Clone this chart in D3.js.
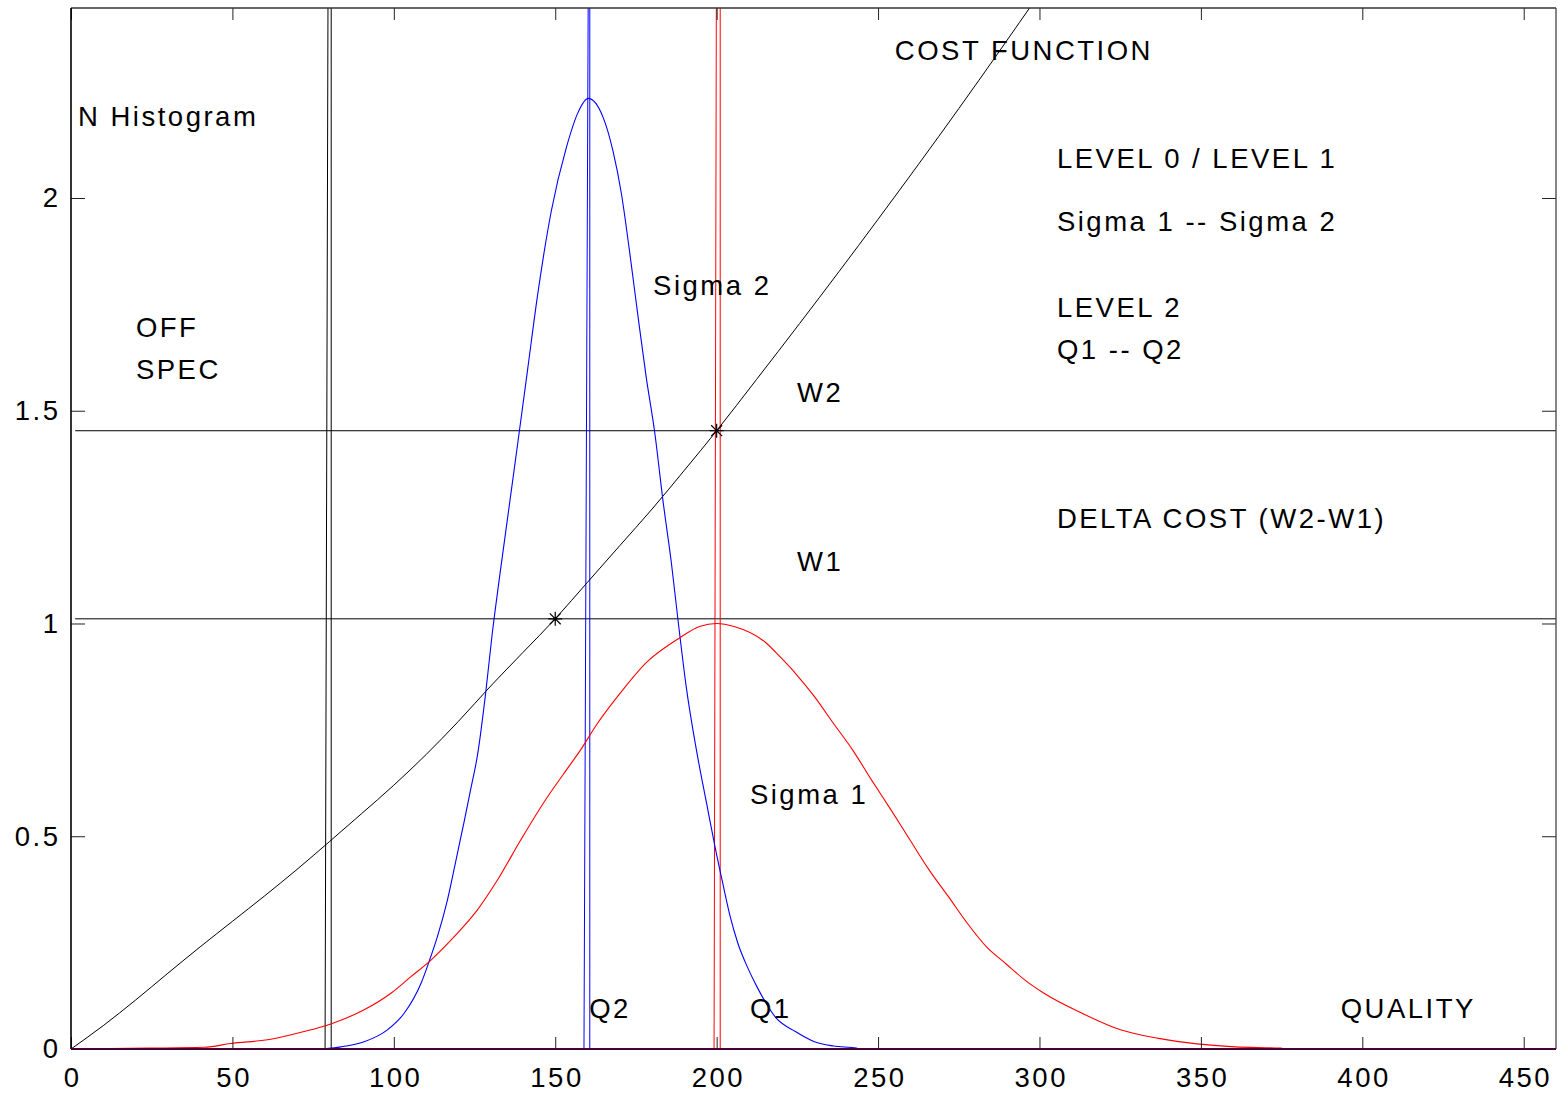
<!DOCTYPE html>
<html><head><meta charset="utf-8">
<script src="https://cdn.jsdelivr.net/npm/d3@7"></script>
<style>
html,body{margin:0;padding:0;background:#fff;}
svg text{font-family:"Liberation Sans",Arial,Helvetica,sans-serif;}
</style></head>
<body><svg id="chart" width="1561" height="1093"></svg>
<script>
// ---- data ----
const xTicks = [0, 50, 100, 150, 200, 250, 300, 350, 400, 450];
const yTicks = [0, 0.5, 1, 1.5, 2];
const xDomain = [0, 460];
const yDomain = [0, 2.4465];

// N histogram, Sigma 2 (blue)
const sigma2X = [0, 76.9, 83.6, 90.8, 98.0, 103.2, 108.4, 110.9, 113.5, 116.6, 119.7, 121.8, 123.8, 125.9, 128.5, 130.5, 132.8, 135.4, 138.5, 141.5, 144.5, 148.8, 153.5, 157.0, 160.2, 164.8, 167.9, 170.5, 173.1, 175.6, 178.2, 180.8, 183.4, 186.0, 188.0, 190.6, 193.7, 197.1, 199.5, 201.9, 204.2, 206.6, 209.5, 212.5, 218.4, 224.4, 230.3, 236.2, 243.3, 244, 460];
const sigma2Y = [0, 0, 0.005, 0.017, 0.045, 0.084, 0.154, 0.205, 0.264, 0.350, 0.460, 0.535, 0.610, 0.690, 0.840, 0.977, 1.112, 1.257, 1.430, 1.600, 1.770, 1.970, 2.120, 2.200, 2.234, 2.190, 2.110, 2.010, 1.870, 1.724, 1.578, 1.450, 1.287, 1.141, 1.010, 0.850, 0.704, 0.569, 0.475, 0.389, 0.311, 0.248, 0.193, 0.146, 0.073, 0.041, 0.017, 0.007, 0.002, 0, 0];

// N histogram, Sigma 1 (red)
const sigma1X = [0, 24.2, 41.3, 49.5, 61.9, 72.2, 80.5, 90.8, 99.1, 105.3, 111.5, 118.7, 125.9, 132.1, 139.3, 146.5, 154.8, 157.6, 162.8, 170.0, 178.2, 188.5, 194.7, 200, 205.4, 214.9, 219.6, 224.4, 230.3, 236.2, 242.1, 248.0, 254.0, 259.9, 265.8, 271.8, 277.7, 283.6, 289.5, 295.5, 301.4, 313.2, 325.1, 336.9, 348.8, 360.6, 374.8, 376, 460];
const sigma1Y = [0, 0.002, 0.004, 0.013, 0.023, 0.041, 0.059, 0.092, 0.131, 0.170, 0.209, 0.264, 0.327, 0.397, 0.491, 0.580, 0.670, 0.700, 0.762, 0.835, 0.908, 0.966, 0.993, 1.000, 0.993, 0.957, 0.922, 0.883, 0.828, 0.765, 0.703, 0.632, 0.562, 0.491, 0.421, 0.358, 0.295, 0.240, 0.201, 0.162, 0.131, 0.084, 0.045, 0.025, 0.012, 0.005, 0.002, 0, 0];

// Cost function (black)
const costX = [0, 10, 20, 30, 40, 50, 60, 70, 80, 90, 100, 110, 120, 130, 140, 150, 160, 170, 180, 190, 200, 212.3, 225.7, 250, 275, 300];
const costY = [0, 0.055, 0.115, 0.178, 0.240, 0.300, 0.360, 0.422, 0.487, 0.553, 0.620, 0.692, 0.770, 0.853, 0.932, 1.011, 1.097, 1.183, 1.269, 1.360, 1.453, 1.573, 1.705, 1.950, 2.210, 2.480];

// Weight levels W1, W2 (horizontal lines) and marked points
const levelY = [1.011, 1.453];
const levelXStart = 1.3;
const markX = [150, 200];
const markY = [1.011, 1.453];

// Quality limit lines: bottom x, top x, colour
const qBottom = [78.7, 80.6, 158.9, 160.7, 199.2, 201.1];
const qTop    = [79.6, 80.6, 160.2, 160.7, 199.9, 201.1];
const qColor  = ["#000000", "#000000", "#0000ff", "#0000ff", "#ff0000", "#ff0000"];

// Annotations (data coordinates)
const labelText = ["N Histogram", "COST FUNCTION", "LEVEL 0 / LEVEL 1", "Sigma 1 -- Sigma 2", "Sigma 2", "LEVEL 2", "OFF", "Q1 -- Q2", "SPEC", "W2", "DELTA COST (W2-W1)", "W1", "Sigma 1", "Q2", "Q1", "QUALITY"];
const labelX = [2.17, 255.2, 305.4, 305.4, 180.3, 305.4, 20.1, 305.4, 20.1, 224.9, 305.4, 224.9, 210.3, 160.5, 210.3, 393.3];
const labelY = [2.169, 2.324, 2.070, 1.922, 1.772, 1.720, 1.673, 1.622, 1.575, 1.520, 1.224, 1.123, 0.576, 0.073, 0.073, 0.073];

// ---- drawing ----
const W = 1561, H = 1093;
const m = {left: 71, top: 8, right: 5, bottom: 44};
const svg = d3.select("#chart");
const x = d3.scaleLinear().domain(xDomain).range([m.left, W - m.right]);
const y = d3.scaleLinear().domain(yDomain).range([H - m.bottom, m.top]);
const FS = 27.5, LS = 2.5;

svg.append("defs").append("clipPath").attr("id", "plot")
  .append("rect").attr("x", m.left).attr("y", m.top)
  .attr("width", W - m.left - m.right).attr("height", H - m.top - m.bottom);

const g = svg.append("g").attr("clip-path", "url(#plot)");

// horizontal level lines
g.selectAll("line.level").data(levelY).join("line")
  .attr("x1", x(levelXStart)).attr("x2", x(xDomain[1]))
  .attr("y1", d => y(d)).attr("y2", d => y(d))
  .attr("stroke", "#000").attr("stroke-width", 1);

// quality lines
g.selectAll("line.q").data(qBottom).join("line")
  .attr("x1", (d, i) => x(qBottom[i])).attr("x2", (d, i) => x(qTop[i]))
  .attr("y1", y(0)).attr("y2", y(yDomain[1]))
  .attr("stroke", (d, i) => qColor[i]).attr("stroke-width", 1);

const zip = (a, b) => a.map((v, i) => [v, b[i]]);
const lineSmooth = d3.line().x(d => x(d[0])).y(d => y(d[1])).curve(d3.curveMonotoneX);

g.append("path").datum(zip(costX, costY)).attr("d", lineSmooth)
  .attr("fill", "none").attr("stroke", "#000").attr("stroke-width", 1);
g.append("path").datum(zip(sigma2X, sigma2Y)).attr("d", lineSmooth)
  .attr("fill", "none").attr("stroke", "#0000ff").attr("stroke-width", 1.1);
g.append("path").datum(zip(sigma1X, sigma1Y)).attr("d", lineSmooth)
  .attr("fill", "none").attr("stroke", "#ff0000").attr("stroke-width", 1.1);

// asterisk markers
const r = 7, rd = r * 0.78;
g.selectAll("path.mark").data(markX).join("path")
  .attr("transform", (d, i) => `translate(${x(markX[i])},${y(markY[i])})`)
  .attr("d", `M${-r},0L${r},0M0,${-r}L0,${r}M${-rd},${-rd}L${rd},${rd}M${-rd},${rd}L${rd},${-rd}`)
  .attr("stroke", "#000").attr("stroke-width", 1.2).attr("fill", "none");

// axes
function styleAxis(sel) {
  sel.select(".domain").remove();
  sel.selectAll(".tick line").attr("stroke", "#222").attr("stroke-width", 1);
  sel.selectAll(".tick text").attr("fill", "#000").attr("font-size", FS)
    .attr("letter-spacing", LS).attr("font-family", '"Liberation Sans", Arial, sans-serif');
}
svg.append("g").attr("transform", `translate(0,${y(0)})`)
  .call(d3.axisBottom(x).tickValues(xTicks).tickSize(-12).tickPadding(18).tickFormat(d3.format("d")))
  .call(styleAxis)
  .selectAll(".tick text").attr("dx", LS / 2);
svg.append("g").attr("transform", `translate(0,${m.top})`)
  .call(d3.axisTop(x).tickValues(xTicks).tickSize(-12).tickFormat(""))
  .call(styleAxis);
svg.append("g").attr("transform", `translate(${m.left},0)`)
  .call(d3.axisLeft(y).tickValues(yTicks).tickSize(-14).tickPadding(10.5).tickFormat(d => String(d)))
  .call(styleAxis);
svg.append("g").attr("transform", `translate(${W - m.right},0)`)
  .call(d3.axisRight(y).tickValues(yTicks).tickSize(-14).tickFormat(""))
  .call(styleAxis);

// frame
svg.append("line").attr("x1", m.left).attr("x2", W - m.right).attr("y1", m.top).attr("y2", m.top)
  .attr("stroke", "#333").attr("stroke-width", 1.4);
svg.append("line").attr("x1", W - m.right).attr("x2", W - m.right).attr("y1", m.top).attr("y2", y(0))
  .attr("stroke", "#444").attr("stroke-width", 1.3);
svg.append("line").attr("x1", m.left).attr("x2", m.left).attr("y1", m.top).attr("y2", y(0))
  .attr("stroke", "#000").attr("stroke-width", 1.6);
svg.append("line").attr("x1", m.left).attr("x2", W - m.right).attr("y1", y(0)).attr("y2", y(0))
  .attr("stroke", "#4a0034").attr("stroke-width", 2);

// annotations
svg.append("g").selectAll("text").data(labelText).join("text")
  .attr("x", (d, i) => x(labelX[i])).attr("y", (d, i) => y(labelY[i]))
  .attr("font-size", FS).attr("letter-spacing", LS).attr("fill", "#000")
  .text(d => d);
</script>
</body></html>
